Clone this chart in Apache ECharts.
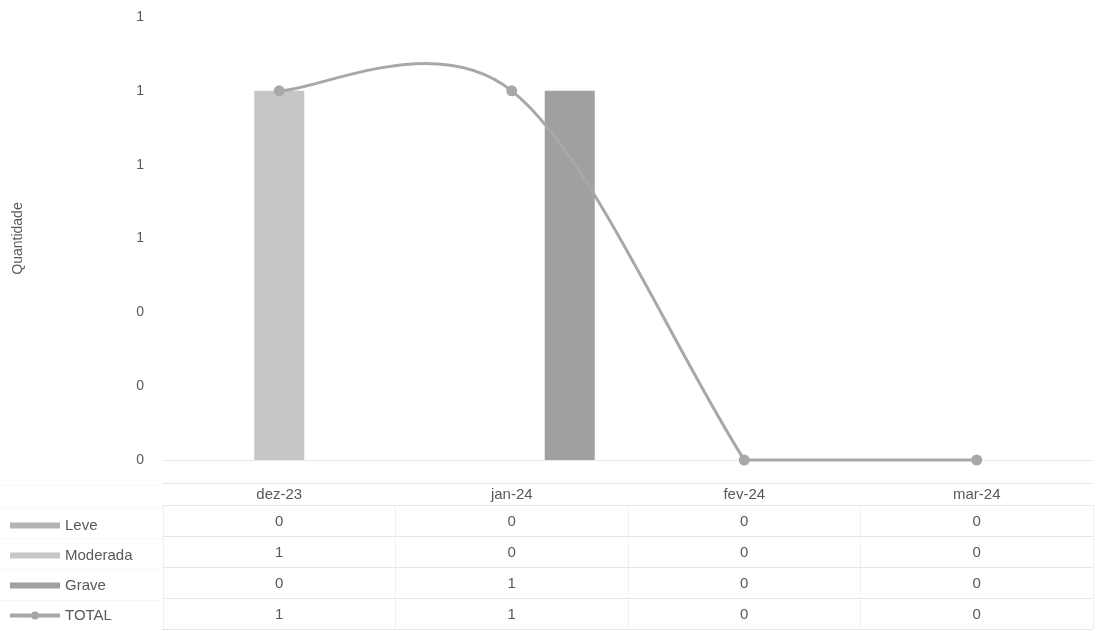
<!DOCTYPE html>
<html>
<head>
<meta charset="utf-8">
<script src="https://cdn.jsdelivr.net/npm/echarts@6/dist/echarts.min.js"></script>
<style>html,body{margin:0;padding:0;background:#fff;}#c{width:1096px;height:631px;}</style>
</head>
<body>
<div id="c"></div>
<script>
const categories = ['dez-23', 'jan-24', 'fev-24', 'mar-24'];
const leve = [0, 0, 0, 0];
const moderada = [1, 0, 0, 0];
const grave = [0, 1, 0, 0];
const total = [1, 1, 0, 0];
const seriesNames = ['Leve', 'Moderada', 'Grave', 'TOTAL'];
const rows = [leve, moderada, grave, total];
const yTicks = { min: 0, max: 1.2, interval: 0.2 };

const TXT = '#595959';
const FONT = '"Liberation Sans", Arial, sans-serif';
const LINE = '#e2e2e2';
const colors = ['#b4b4b4', '#c6c6c6', '#a0a0a0', '#a8a8a8'];

const chart = echarts.init(document.getElementById('c'));

const baseAxis = {
  type: 'category', data: categories, gridIndex: 0, position: 'bottom',
  boundaryGap: true,
  axisLine: { show: true, lineStyle: { color: LINE, type: 'dotted', width: 1 } },
  splitLine: { show: false }
};

const xAxes = [];
xAxes.push(Object.assign({}, baseAxis, {
  axisTick: { show: false },
  axisLabel: { margin: 27, color: TXT, fontSize: 15, fontFamily: FONT }
}));
xAxes.push(Object.assign({}, baseAxis, {
  offset: 23, axisTick: { show: false }, axisLabel: { show: false }
}));
const rowOffsets = [45, 76, 107, 138];
rows.forEach((r, i) => {
  xAxes.push(Object.assign({}, baseAxis, {
    offset: rowOffsets[i],
    axisTick: { show: true, inside: false, length: 31, interval: 0, lineStyle: { color: LINE, type: 'dotted' } },
    axisLabel: { margin: 9, color: TXT, fontSize: 15, fontFamily: FONT, interval: 0,
      formatter: (v, idx) => String(r[idx]) }
  }));
});
xAxes.push(Object.assign({}, baseAxis, {
  offset: 169, axisTick: { show: false }, axisLabel: { show: false }
}));

const leftLines = [23, 45, 76, 107, 138].map(o => ({
  type: 'line', left: 0, top: 460 + o,
  shape: { x1: 0, y1: 0, x2: 163, y2: 0 },
  style: { stroke: LINE, lineDash: [1, 3], lineWidth: 1 }
}));

// Smoothed curve through the TOTAL points; tangents avoid dipping below the baseline
function renderTotalCurve(params, api) {
  if (params.dataIndex !== 0) return null;
  const p = total.map((v, i) => api.coord([i, v]));
  const baseY = api.coord([0, 0])[1];
  const n = p.length;
  const cin = [], cout = [];
  for (let i = 0; i < n; i++) {
    const pm = p[Math.max(i - 1, 0)], pn = p[Math.min(i + 1, n - 1)];
    let tx = (pn[0] - pm[0]) / 6, ty = (pn[1] - pm[1]) / 6;
    let o = [p[i][0] + tx, p[i][1] + ty], q = [p[i][0] - tx, p[i][1] - ty];
    if (o[1] > baseY + 0.5 || q[1] > baseY + 0.5) {
      o = [p[i][0] + (pn[0] - p[i][0]) / 3, p[i][1] + (pn[1] - p[i][1]) / 3];
      q = [p[i][0] - (p[i][0] - pm[0]) / 3, p[i][1] - (p[i][1] - pm[1]) / 3];
    }
    cout.push(o); cin.push(q);
  }
  const children = [];
  for (let i = 0; i < n - 1; i++) {
    children.push({
      type: 'bezierCurve',
      shape: {
        x1: p[i][0], y1: p[i][1], x2: p[i + 1][0], y2: p[i + 1][1],
        cpx1: cout[i][0], cpy1: cout[i][1], cpx2: cin[i + 1][0], cpy2: cin[i + 1][1]
      },
      style: { stroke: colors[3], lineWidth: 3, fill: null }
    });
  }
  return { type: 'group', children: children };
}

chart.setOption({
  animation: false,
  backgroundColor: '#fff',
  color: colors,
  grid: { left: 163, right: 3, top: 17, bottom: 171, containLabel: false },
  legend: {
    orient: 'vertical', left: 3, top: 513, height: 300, itemWidth: 50, itemHeight: 10, itemGap: 15,
    textStyle: { color: TXT, fontSize: 15, fontFamily: FONT },
    data: [
      { name: 'Leve', icon: 'path://M0,0h50v6h-50z' },
      { name: 'Moderada', icon: 'path://M0,0h50v6h-50z' },
      { name: 'Grave', icon: 'path://M0,0h50v6h-50z' },
      { name: 'TOTAL', lineStyle: { width: 4, opacity: 1, color: colors[3] } }
    ]
  },
  xAxis: xAxes,
  yAxis: {
    type: 'value', min: yTicks.min, max: yTicks.max, interval: yTicks.interval,
    name: 'Quantidade', nameLocation: 'middle', nameRotate: 90, nameGap: 138,
    nameTextStyle: { color: TXT, fontSize: 14, fontFamily: FONT },
    axisLine: { show: false }, axisTick: { show: false },
    splitLine: { show: false },
    axisLabel: { margin: 19, color: TXT, fontSize: 14, fontFamily: FONT,
      formatter: v => String(Math.round(v)) }
  },
  graphic: leftLines,
  series: [
    { name: seriesNames[0], type: 'bar', data: leve, barWidth: 50, barGap: '16%', itemStyle: { color: colors[0] } },
    { name: seriesNames[1], type: 'bar', data: moderada, barWidth: 50, barGap: '16%', itemStyle: { color: colors[1] } },
    { name: seriesNames[2], type: 'bar', data: grave, barWidth: 50, barGap: '16%', itemStyle: { color: colors[2] } },
    { name: seriesNames[3], type: 'line', data: total, symbol: 'circle', symbolSize: 11, z: 6,
      lineStyle: { color: colors[3], width: 3, opacity: 0 }, itemStyle: { color: colors[3] } },
    { name: seriesNames[3], type: 'custom', renderItem: renderTotalCurve, z: 5,
      data: total.map((v, i) => [i, v]), itemStyle: { color: colors[3] } }
  ]
});
</script>
</body>
</html>
